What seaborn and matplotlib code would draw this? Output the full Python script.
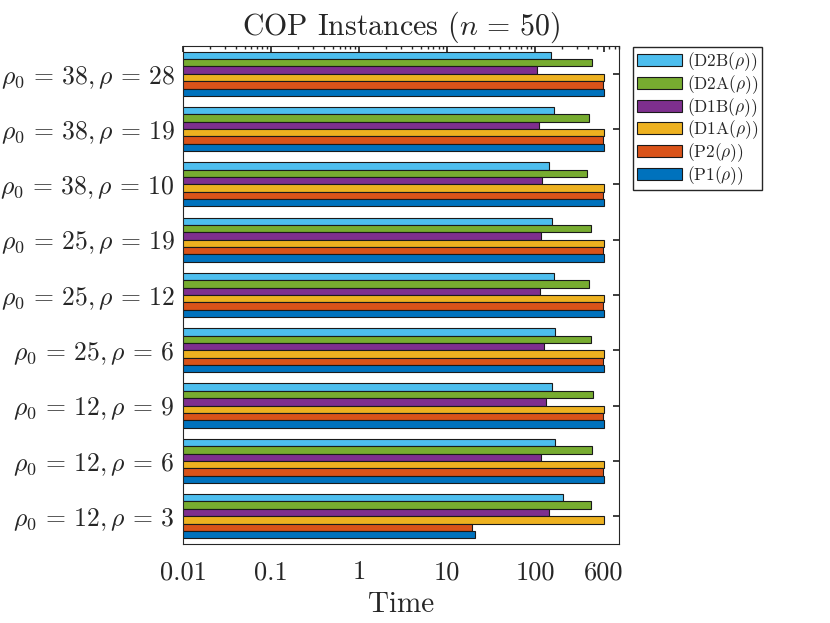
# %%
# ===== Importing Libraries =====

import numpy as np
import pandas as pd

import matplotlib
matplotlib.use('Agg')
import matplotlib.pyplot as plt
import seaborn as sns; sns.set_theme(style='white')

plt.rcParams['font.family'] = 'serif'
plt.rcParams['font.serif'] = ['cmr10', 'DejaVu Serif']
plt.rcParams['mathtext.fontset'] = 'cm'
plt.rcParams['axes.formatter.use_mathtext'] = True

# %%
# ===== Data =====

instances = [r'$\rho_0\,=\,38, \rho\,=\,28$', r'$\rho_0\,=\,38, \rho\,=\,19$', r'$\rho_0\,=\,38, \rho\,=\,10$',
             r'$\rho_0\,=\,25, \rho\,=\,19$', r'$\rho_0\,=\,25, \rho\,=\,12$', r'$\rho_0\,=\,25, \rho\,=\,6$',
             r'$\rho_0\,=\,12, \rho\,=\,9$', r'$\rho_0\,=\,12, \rho\,=\,6$', r'$\rho_0\,=\,12, \rho\,=\,3$']

methods = [r'(D2B($\rho$))', r'(D2A($\rho$))', r'(D1B($\rho$))',
           r'(D1A($\rho$))', r'(P2($\rho$))', r'(P1($\rho$))']

d2b = [150, 165, 144, 155, 163, 168, 154, 168, 207]
d2a = [440, 407, 394, 430, 407, 437, 452, 445, 430]
d1b = [105, 110, 119, 116, 113, 126, 132, 116, 146]
d1a = [605, 605, 605, 605, 605, 605, 605, 605, 605]
p2 = [598, 598, 598, 598, 598, 598, 598, 598, 19]
p1 = [600, 600, 600, 600, 600, 600, 600, 600, 21]

colors = ['#4DBEEE', '#77AC30', '#7E2F8E', '#EDB120', '#D95319', '#0072BD']

xticks = [0.01, 0.1, 1, 10, 100, 600]
xtick_labels = ['0.01', '0.1', '1', '10', '100', '600']

# %%
# ===== Long table =====

series = [d2b, d2a, d1b, d1a, p2, p1]
rows = []
for m, vals in zip(methods, series):
    for inst, v in zip(instances, vals):
        rows.append({'Instance': inst, 'Method': m, 'Time': v})
df = pd.DataFrame(rows)

# %%
# ===== Plot =====

fig = plt.figure(figsize=(8.3, 6.23), dpi=100)
ax = fig.add_axes([0.2205, 0.127, 0.5253, 0.799])

sns.barplot(data=df, y='Instance', x='Time', hue='Method',
            order=instances, hue_order=methods, palette=colors,
            width=0.8, edgecolor='#1a1a1a', linewidth=0.8,
            saturation=1, errorbar=None, ax=ax)

ax.set_xscale('log')
ax.set_xlim(0.01, 900)
ax.set_ylim(8.5, -0.5)
ax.set_xticks(xticks)
ax.set_xticklabels(xtick_labels, fontsize=19)
ax.tick_params(axis='y', labelsize=18.5, pad=6)
ax.tick_params(which='both', direction='in', top=True, right=True,
               color='#262626', length=4)
ax.tick_params(which='minor', length=2.5)
ax.tick_params(axis='x', which='major', pad=12)

for sp in ax.spines.values():
    sp.set_color('#262626')
    sp.set_linewidth(0.8)

ax.set_ylabel('')
ax.set_xlabel('Time', fontsize=21, labelpad=5)
ax.set_title(r'COP Instances ($n\,=\,50$)', fontsize=21.5, pad=8)

ax.legend_.remove()
handles, labels = ax.get_legend_handles_labels()
fig.legend(handles, labels, loc='upper left', bbox_to_anchor=(0.7627, 0.9246),
           fontsize=12.5, handlelength=2.6, handleheight=0.7,
           labelspacing=0.0, handletextpad=0.3, borderpad=0.2,
           borderaxespad=0, fancybox=False, edgecolor='#262626', framealpha=1)

fig.savefig('out.png', dpi=100)
